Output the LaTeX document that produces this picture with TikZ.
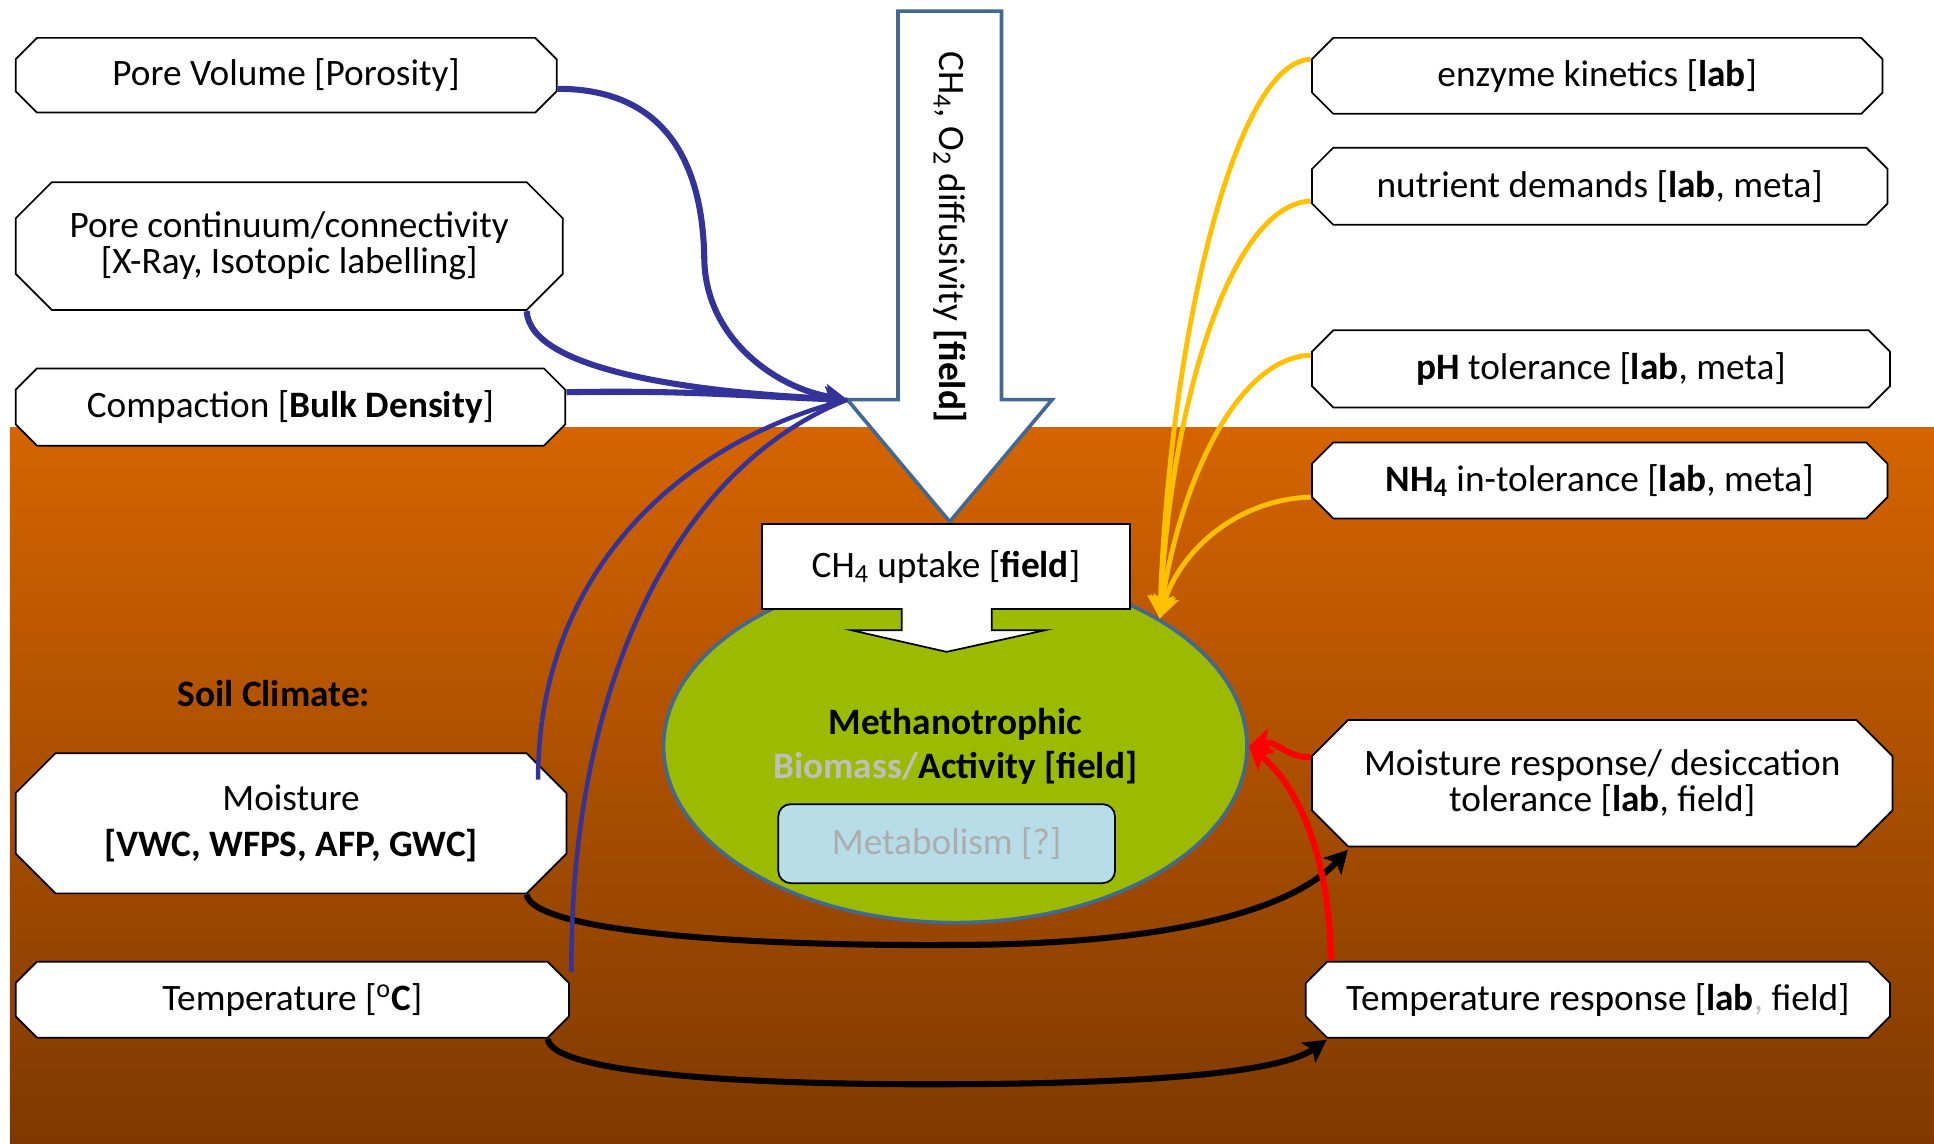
\documentclass[tikz,border=0pt]{standalone}
\usepackage{fontspec}
\setmainfont{Carlito}
\usetikzlibrary{arrows.meta,shapes.geometric,calc}

\definecolor{soiltop}{RGB}{213,100,0}
\definecolor{soilbot}{RGB}{126,57,0}
\definecolor{poreblue}{RGB}{51,51,153}
\definecolor{edgeblue}{RGB}{65,105,145}
\definecolor{labgold}{RGB}{255,192,0}
\definecolor{mossgreen}{RGB}{156,186,0}
\definecolor{paleblue}{RGB}{183,222,232}
\definecolor{fadegrey}{RGB}{191,191,191}

\newcommand{\pxu}{0.025cm}

\tikzset{
  octbox/.style n args={3}{minimum width=#1*\pxu, minimum height=#2*\pxu,
    inner sep=0pt, align=center,
    path picture={
      \coordinate (octnw) at (path picture bounding box.north west);
      \coordinate (octse) at (path picture bounding box.south east);
      \draw[fill=white,line width=1pt,line join=miter]
        ($(octnw)+(#3,0.7)$) -- ($(octse|-octnw)+(-#3,0.7)$) -- ($(octse|-octnw)+(-0.7,#3)$)
        -- ($(octse)+(-0.7,-#3)$) -- ($(octse)+(-#3,-0.7)$) -- ($(octnw|-octse)+(#3,-0.7)$)
        -- ($(octnw|-octse)+(0.7,-#3)$) -- ($(octnw)+(0.7,#3)$) -- cycle;
    }},
  porelink/.style={poreblue,line width=3.5pt,-{Stealth[length=13pt,width=14pt,inset=3pt]}},
  climlink/.style={poreblue,line width=2.6pt},
  lablink/.style={labgold,line width=2.8pt,-{Stealth[length=13pt,width=15pt,inset=3pt]}},
  resplink/.style={red,line width=3.5pt,-{Stealth[length=13pt,width=15pt,inset=3pt]}},
  soillink/.style={black,line width=3.5pt,-{Stealth[length=13pt,width=14pt,inset=3pt]}}
}

\begin{document}
\begin{tikzpicture}[x=0.025cm,y=-0.025cm,font=\fontsize{21.5}{20.6}\selectfont]
\useasboundingbox (0,0) rectangle (1568,927);
% soil
\shade[top color=soiltop,bottom color=soilbot] (8,347) rectangle (1568,927);

% gas diffusion arrow
\draw[edgeblue,fill=white,line width=2.1pt] (728,9) -- (812,9) -- (812,324) -- (853,324)
  -- (770,423) -- (687,324) -- (728,324) -- cycle;
\coordinate (wing) at (687,324);
\node[rotate=-90] (diff) at (770,192) {CH\textsubscript{4}, O\textsubscript{2} diffusivity \textbf{[field]}};

% methanotrophs
\node[ellipse,minimum width=473*\pxu,minimum height=286*\pxu,fill=mossgreen,draw=edgeblue,
  line width=2.1pt,align=center] (mb) at (774.5,605)
  {\textbf{Methanotrophic}\\[5pt]\textcolor{fadegrey}{\textbf{Biomass/}}\textbf{Activity [field]}};
\node[draw,fill=white,line width=1pt,minimum width=298*\pxu,minimum height=69*\pxu] (upt)
  at (767,459.5) {CH\textsubscript{4} uptake [\textbf{field}]};
\draw[fill=white,line width=1pt] (731,493) -- (731,511) -- (690.5,511) -- (767.5,528.5)
  -- (847,511) -- (804,511) -- (804,493);
\node[draw,fill=paleblue,line width=1pt,rounded corners=0.25cm,minimum width=273*\pxu,
  minimum height=64*\pxu,text=black!32] (met) at (767.5,684) {Metabolism [?]};

% soil structure
\node[octbox={440}{62}{18}] (pv) at (232,61) {Pore Volume [Porosity]};
\node[octbox={445}{105}{30}] (pc) at (234.5,199.5) {Pore continuum/connectivity\\{}[X-Ray, Isotopic labelling]};
\node[octbox={447}{64}{18}] (cp) at (235.5,330) {Compaction [\textbf{Bulk Density}]};

% soil climate
\node (sc) at (222,562) {\textbf{Soil Climate:}};
\node[octbox={448}{115}{33}] (mo) at (236,667.5) {Moisture\\[6pt]\textbf{[VWC, WFPS, AFP, GWC]}};
\node[octbox={450}{63}{18}] (te) at (237,810.5) {Temperature [\textsuperscript{o}\textbf{C}]};

% lab traits
\node[octbox={464}{63}{18}] (ek) at (1295,61.5) {enzyme kinetics [\textbf{lab}]};
\node[octbox={468}{64}{18}] (nd) at (1297,151) {nutrient demands [\textbf{lab}, meta]};
\node[octbox={470}{64}{18}] (ph) at (1298,299) {\textbf{pH} tolerance [\textbf{lab}, meta]};
\node[octbox={468}{63}{18}] (nh) at (1297,389.5) {\textbf{NH\textsubscript{4}} in-tolerance [\textbf{lab}, meta]};
\node[octbox={472}{104}{30}] (mr) at (1299,635) {Moisture response/ desiccation\\tolerance [\textbf{lab}, field]};
\node[octbox={475}{63}{18}] (tr) at (1295.5,810.5) {Temperature response [\textbf{lab}\textcolor{fadegrey}{,} field]};

% climate -> responses
\draw[soillink] ($(mo.south)+(191,0)$) .. controls (432,755) and (600,768) .. (790,766)
  .. controls (960,764) and (1050,735) .. ($(mr.west)+(30,54)$);
\draw[soillink] ($(te.south)+(207,0)$) .. controls (448,872) and (620,880) .. (780,879)
  .. controls (950,878) and (1040,868) .. ($(tr.west)+(18,32.5)$);

% structure -> diffusion
\draw[porelink] ($(pv.east)+(0,11)$) .. controls (545,72) and (570,140) .. (571,210)
  .. controls (572,275) and (630,315) .. (wing);
\draw[porelink] ($(pc.south)+(192.5,0)$) .. controls (430,300) and (560,318) .. (wing);
\draw[porelink] ($(cp.east)+(0,-12)$) .. controls (560,316) and (620,322) .. (wing);
\draw[climlink] ($(mo.east)+(-24,-35.5)$) .. controls (436,470) and (545,360) .. (wing);
\draw[climlink] ($(te.east)+(1,-22.5)$) .. controls (462,560) and (545,380) .. (wing);

% traits -> biomass
\draw[lablink] ($(ek.west)+(0,-13.5)$) .. controls (1000,50) and (948,280) .. (mb.32.5);
\draw[lablink] ($(nd.west)+(0,12)$) .. controls (1000,165) and (950,320) .. (mb.32.5);
\draw[lablink] ($(ph.west)+(0,-11)$) .. controls (1000,290) and (955,400) .. (mb.32.5);
\draw[lablink] ($(nh.west)+(0,13.5)$) .. controls (1000,405) and (955,450) .. (mb.32.5);
\draw[resplink] ($(mr.west)+(0,-21)$) .. controls (1042,614) and (1035,600) .. (mb.0);
\draw[resplink] ($(tr.north)+(-216.5,0)$) .. controls (1078,690) and (1050,635) .. (mb.0);
\end{tikzpicture}
\end{document}
